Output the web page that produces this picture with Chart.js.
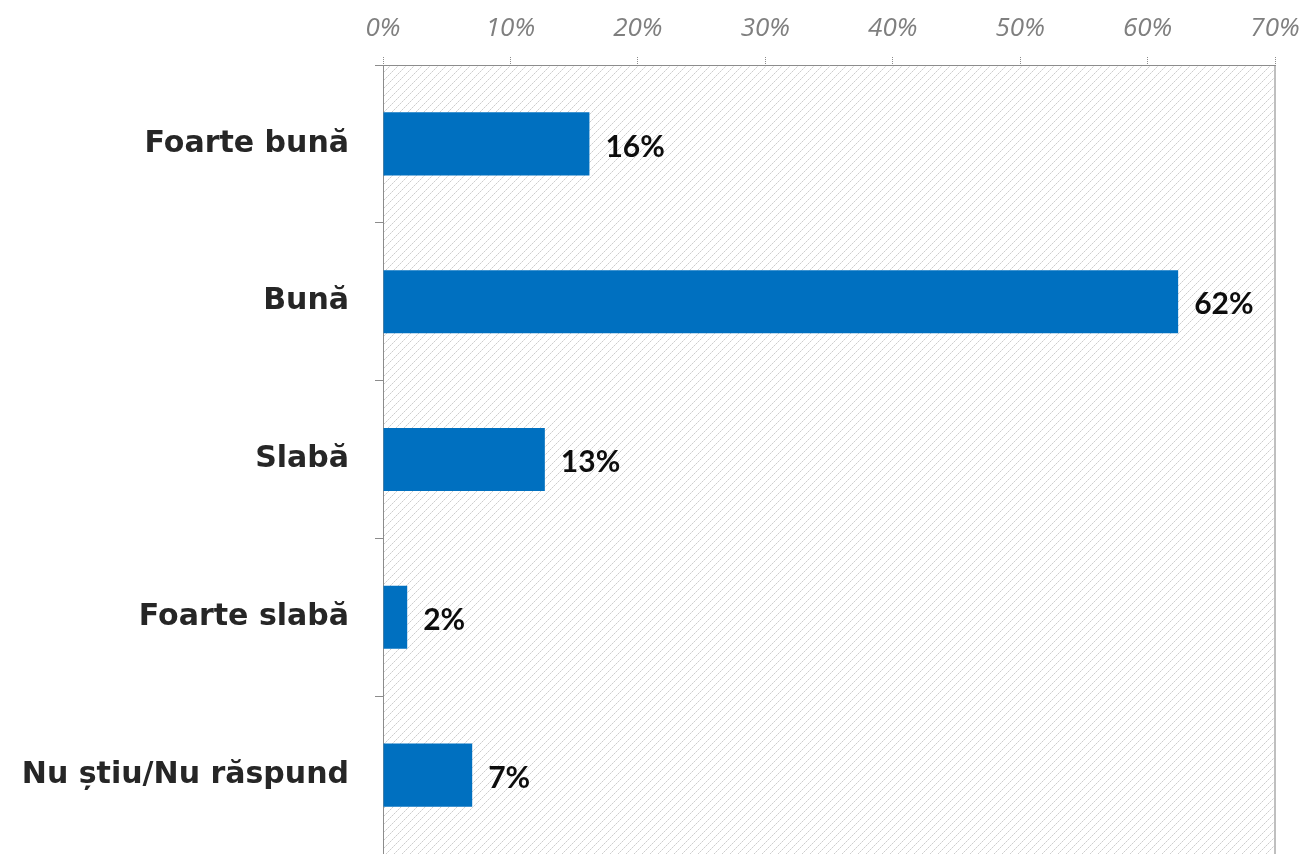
<!DOCTYPE html>
<html>
<head>
<meta charset="utf-8">
<script src="https://cdn.jsdelivr.net/npm/chart.js@4/dist/chart.umd.min.js"></script>
<style>
  body { margin: 0; background: #fff; }
  #chart { display: block; }
</style>
</head>
<body>
<canvas id="chart" width="1303" height="854"></canvas>
<script>
const categories = ['Foarte bună', 'Bună', 'Slabă', 'Foarte slabă', 'Nu știu/Nu răspund'];
const values = [16.2, 62.4, 12.7, 1.9, 7.0];
const valueLabels = ['16%', '62%', '13%', '2%', '7%'];
const axisMax = 70;
const axisStep = 10;

// dotted diagonal hatch for the plot background
function makeHatch(ctx) {
    const c = document.createElement('canvas');
    c.width = 8; c.height = 8;
    const g = c.getContext('2d');
    for (let i = 0; i < 8; i++) {
        g.fillStyle = i % 2 ? '#e4e4e4' : '#cdcdcd';
        g.fillRect(i, 7 - i, 1, 1);
    }
    return ctx.createPattern(c, 'repeat');
}

const hatchPlugin = {
    id: 'hatch',
    beforeDraw(chart) {
        const { ctx, chartArea: a } = chart;
        ctx.save();
        ctx.fillStyle = makeHatch(ctx);
        ctx.fillRect(a.left, a.top, a.right - a.left, a.bottom - a.top);
        // right border
        ctx.strokeStyle = '#bfbfbf';
        ctx.lineWidth = 2;
        ctx.beginPath();
        ctx.moveTo(a.right, a.top);
        ctx.lineTo(a.right, a.bottom);
        ctx.stroke();
        ctx.restore();
    }
};

const labelPlugin = {
    id: 'barLabels',
    afterDatasetsDraw(chart) {
        const { ctx } = chart;
        const meta = chart.getDatasetMeta(0);
        ctx.save();
        ctx.font = 'bold 30px Lato, "Open Sans", sans-serif';
        ctx.fillStyle = '#0d0d0d';
        ctx.textBaseline = 'middle';
        ctx.textAlign = 'left';
        meta.data.forEach((bar, i) => {
            ctx.fillText(valueLabels[i], bar.x + 16, bar.y + 3);
        });
        ctx.restore();
    }
};

new Chart(document.getElementById('chart'), {
    type: 'bar',
    data: {
        labels: categories,
        datasets: [{
            data: values,
            backgroundColor: '#0070C0',
            barPercentage: 0.8,
            categoryPercentage: 0.5
        }]
    },
    options: {
        indexAxis: 'y',
        responsive: false,
        animation: false,
        layout: { padding: { right: 28, bottom: -1 } },
        plugins: { legend: { display: false }, tooltip: { enabled: false } },
        scales: {
            x: {
                position: 'top',
                min: 0,
                max: axisMax,
                ticks: {
                    stepSize: axisStep,
                    color: '#7f7f7f',
                    font: { family: '"Open Sans", sans-serif', size: 26, style: 'italic' },
                    padding: 13,
                    callback: v => v + '%'
                },
                grid: {
                    color: 'transparent',
                    tickColor: '#8c8c8c',
                    tickLength: 8,
                    tickBorderDash: [1, 1]
                },
                border: { display: true, color: '#8c8c8c', dash: [2, 1] },
                afterFit: s => {
                    s.height = 65;
                    s.paddingLeft = 0;
                    s.paddingRight = 0;
                }
            },
            y: {
                ticks: {
                    color: '#262626',
                    font: { family: '"DejaVu Sans", sans-serif', size: 30, weight: 'bold' },
                    padding: 26
                },
                grid: {
                    color: 'transparent',
                    tickColor: '#8c8c8c',
                    tickLength: 8,
                    offset: true
                },
                border: { display: true, color: '#8c8c8c' },
                afterFit: s => {
                    s.width = 383;
                    s.paddingTop = 0;
                    s.paddingBottom = 0;
                }
            }
        }
    },
    plugins: [hatchPlugin, labelPlugin]
});
</script>
</body>
</html>
